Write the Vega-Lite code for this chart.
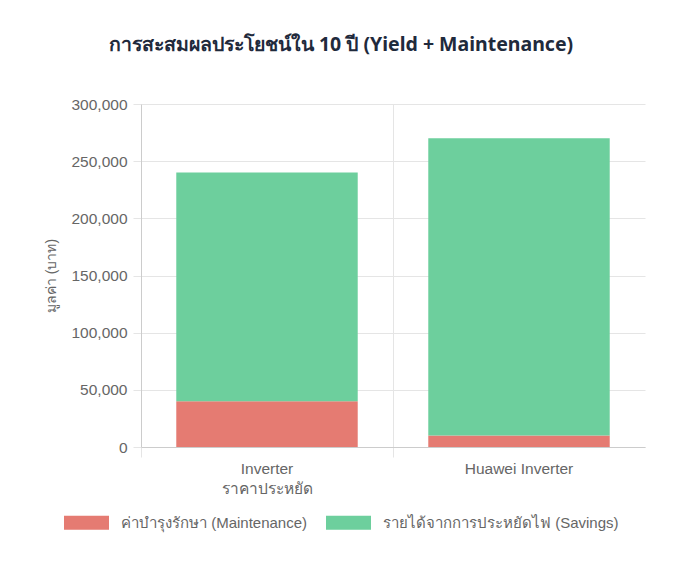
{
  "$schema": "https://vega.github.io/schema/vega-lite/v6.json",
  "width": 504,
  "height": 343,
  "autosize": {"type": "none"},
  "padding": {"left": 141, "top": 104, "right": 28, "bottom": 130},
  "background": "white",
  "title": {
    "text": "การสะสมผลประโยชน์ใน 10 ปี (Yield + Maintenance)",
    "font": "Noto Sans",
    "fontSize": 19.5,
    "fontWeight": "bold",
    "color": "#1f2a3c",
    "anchor": "middle",
    "frame": "group",
    "dx": -52,
    "offset": 42
  },
  "data": {
    "values": [
      {"category": "Inverter ราคาประหยัด", "series": "ค่าบำรุงรักษา (Maintenance)", "value": 40000, "ord": 1},
      {"category": "Inverter ราคาประหยัด", "series": "รายได้จากการประหยัดไฟ (Savings)", "value": 200000, "ord": 2},
      {"category": "Huawei Inverter", "series": "ค่าบำรุงรักษา (Maintenance)", "value": 10000, "ord": 1},
      {"category": "Huawei Inverter", "series": "รายได้จากการประหยัดไฟ (Savings)", "value": 260000, "ord": 2}
    ]
  },
  "mark": {"type": "bar"},
  "encoding": {
    "x": {
      "field": "category",
      "type": "nominal",
      "sort": ["Inverter ราคาประหยัด", "Huawei Inverter"],
      "scale": {"paddingInner": 0.28, "paddingOuter": 0.14},
      "axis": {
        "title": null,
        "labelAngle": 0,
        "labelExpr": "datum.label == 'Inverter ราคาประหยัด' ? ['Inverter', 'ราคาประหยัด'] : datum.label",
        "labelFont": "Liberation Sans",
        "labelFontSize": 15.5,
        "labelColor": "#666666",
        "labelLineHeight": 20,
        "labelPadding": 4,
        "grid": true,
        "gridColor": "#e5e5e5",
        "bandPosition": -0.1944,
        "ticks": true,
        "tickSize": 10,
        "tickColor": "#e5e5e5",
        "domainColor": "#cccccc"
      }
    },
    "y": {
      "field": "value",
      "type": "quantitative",
      "stack": "zero",
      "scale": {"domain": [0, 300000], "nice": false},
      "axis": {
        "title": "มูลค่า (บาท)",
        "titleFont": "Liberation Sans",
        "titleFontSize": 14,
        "titleFontWeight": "normal",
        "titleColor": "#666666",
        "titlePadding": 12,
        "values": [0, 50000, 100000, 150000, 200000, 250000, 300000],
        "format": ",d",
        "labelFont": "Liberation Sans",
        "labelFontSize": 15.5,
        "labelColor": "#666666",
        "labelPadding": 6,
        "tickSize": 8,
        "tickColor": "#e5e5e5",
        "gridColor": "#e5e5e5",
        "domainColor": "#cccccc"
      }
    },
    "color": {
      "field": "series",
      "type": "nominal",
      "scale": {
        "domain": ["ค่าบำรุงรักษา (Maintenance)", "รายได้จากการประหยัดไฟ (Savings)"],
        "range": ["#e57b72", "#6dcf9d"]
      },
      "legend": {
        "title": null,
        "orient": "none",
        "direction": "horizontal",
        "legendX": -77,
        "legendY": 396,
        "symbolType": "M-1,-0.31L1,-0.31L1,0.31L-1,0.31Z",
        "symbolSize": 2025,
        "symbolStrokeWidth": 0,
        "symbolOpacity": 1,
        "labelFont": "Liberation Sans",
        "labelFontSize": 15,
        "labelColor": "#666666",
        "labelOffset": 12,
        "columnPadding": 18,
        "labelLimit": 400
      }
    },
    "order": {"field": "ord", "type": "quantitative"}
  },
  "config": {
    "view": {"stroke": null}
  }
}
